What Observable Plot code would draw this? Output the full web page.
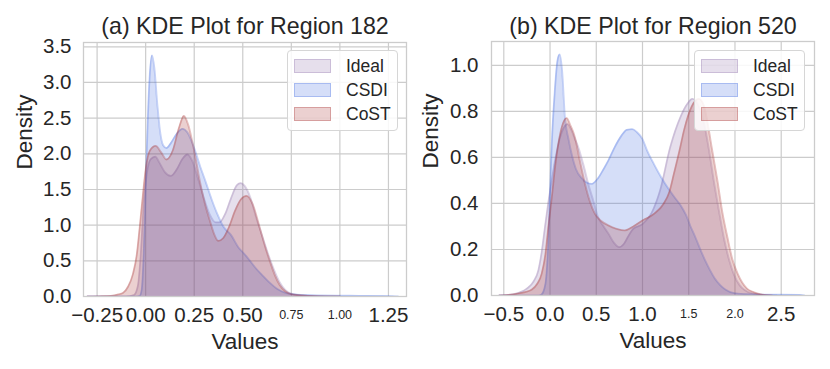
<!DOCTYPE html>
<html><head><meta charset="utf-8">
<script src="https://cdn.jsdelivr.net/npm/d3@7"></script>
<script src="https://cdn.jsdelivr.net/npm/@observablehq/plot@0.6"></script>
<style>
body{margin:0;background:#fff;font-family:"Liberation Sans",Arial,sans-serif;}
#wrap{display:flex;width:830px;height:369px;}
.panel{position:relative;width:415px;height:369px;}
.legend{position:absolute;top:50px;height:81px;background:rgba(255,255,255,0.85);border:1px solid #d6d6d6;border-radius:4px;box-sizing:border-box;}
.row{position:absolute;left:0;right:0;height:24px;}
.patch{position:absolute;left:6px;top:5px;width:37px;height:14px;box-sizing:border-box;}
.lab{position:absolute;top:2px;font-size:17.5px;color:#262626;line-height:20px;}
</style></head>
<body><div id="wrap"><div class="panel" id="p1"></div><div class="panel" id="p2"></div></div>
<script>
// ---------- data ----------
const seriesNames = ["Ideal", "CSDI", "CoST"];
const seriesColors = ["#8d6fa8", "#4169e1", "#a52a2a"];

// Region 182
const ideal182X = [-0.30,-0.10,-0.06,-0.04,-0.025,-0.01,0.005,0.025,0.05,0.07,0.10,0.13,0.16,0.19,0.215,0.24,0.27,0.30,0.33,0.36,0.38,0.41,0.44,0.47,0.49,0.51,0.54,0.57,0.60,0.63,0.66,0.69,0.72,0.75,0.80,0.90,1.0];
const ideal182Y = [0,0,0.02,0.15,0.6,1.3,1.7,1.92,1.96,1.88,1.74,1.69,1.78,1.93,1.99,1.9,1.65,1.38,1.15,1.04,1.04,1.16,1.38,1.56,1.59,1.55,1.38,1.1,0.85,0.6,0.38,0.2,0.09,0.04,0.015,0.003,0];
const csdi182X = [-0.30,-0.05,-0.03,-0.02,-0.01,0.0,0.01,0.02,0.033,0.045,0.06,0.075,0.09,0.107,0.13,0.16,0.19,0.215,0.25,0.28,0.31,0.34,0.37,0.40,0.44,0.48,0.50,0.52,0.56,0.60,0.64,0.68,0.72,0.78,0.9,1.0,1.1,1.2,1.27,1.3];
const csdi182Y = [0,0,0.01,0.1,0.6,1.5,2.4,3.05,3.38,3.2,2.7,2.3,2.12,2.08,2.15,2.28,2.35,2.3,2.08,1.83,1.6,1.36,1.15,0.98,0.86,0.68,0.62,0.56,0.42,0.3,0.19,0.1,0.05,0.025,0.015,0.012,0.01,0.008,0.005,0];
const cost182X = [-0.30,-0.24,-0.18,-0.14,-0.117,-0.09,-0.066,-0.045,-0.031,-0.015,0.0,0.021,0.052,0.08,0.107,0.14,0.17,0.197,0.22,0.25,0.279,0.31,0.331,0.355,0.374,0.40,0.43,0.46,0.49,0.52,0.55,0.588,0.615,0.64,0.665,0.69,0.72,0.76,0.85,0.93,1.0];
const cost182Y = [0,0.003,0.01,0.03,0.05,0.14,0.31,0.6,0.96,1.4,1.78,2.04,2.11,2.02,1.92,2.05,2.35,2.53,2.4,2.04,1.62,1.25,1.06,0.86,0.78,0.82,0.98,1.2,1.36,1.41,1.3,0.96,0.7,0.49,0.3,0.16,0.07,0.025,0.008,0.002,0];

// Region 520
const ideal520X = [-0.55,-0.45,-0.35,-0.25,-0.18,-0.126,-0.09,-0.054,-0.02,0.018,0.06,0.108,0.15,0.19,0.23,0.27,0.306,0.36,0.414,0.47,0.52,0.58,0.63,0.69,0.748,0.80,0.85,0.90,1.0,1.1,1.19,1.3,1.41,1.48,1.54,1.60,1.67,1.72,1.77,1.83,1.88,1.94,1.99,2.05,2.1,2.2,2.35,2.45];
const ideal520Y = [0,0.003,0.01,0.03,0.06,0.11,0.19,0.3,0.4,0.5,0.6,0.687,0.73,0.745,0.72,0.68,0.644,0.57,0.485,0.41,0.34,0.3,0.27,0.23,0.21,0.225,0.26,0.29,0.31,0.36,0.456,0.645,0.775,0.83,0.855,0.83,0.74,0.63,0.5,0.36,0.25,0.15,0.09,0.045,0.025,0.008,0.002,0];
const csdi520X = [-0.55,-0.12,-0.09,-0.05,-0.018,0.0,0.02,0.05,0.08,0.104,0.13,0.162,0.2,0.234,0.28,0.342,0.40,0.45,0.52,0.58,0.63,0.7,0.773,0.83,0.889,0.94,1.0,1.05,1.125,1.2,1.27,1.34,1.415,1.47,1.52,1.575,1.63,1.68,1.73,1.78,1.84,1.9,1.99,2.1,2.3,2.5,2.7,2.75];
const csdi520Y = [0,0,0.005,0.05,0.24,0.45,0.67,0.88,1.02,1.048,0.98,0.77,0.68,0.615,0.55,0.51,0.49,0.485,0.51,0.55,0.586,0.645,0.695,0.72,0.723,0.71,0.68,0.63,0.57,0.515,0.47,0.43,0.39,0.35,0.3,0.25,0.196,0.15,0.11,0.075,0.045,0.025,0.01,0.006,0.004,0.004,0.003,0];
const cost520X = [-0.55,-0.47,-0.35,-0.27,-0.2,-0.14,-0.09,-0.05,-0.018,0.02,0.054,0.09,0.126,0.18,0.22,0.27,0.32,0.378,0.43,0.486,0.55,0.63,0.72,0.81,0.9,1.0,1.125,1.23,1.29,1.34,1.40,1.45,1.53,1.61,1.66,1.70,1.75,1.81,1.86,1.92,1.97,2.03,2.08,2.13,2.2,2.28,2.4];
const cost520Y = [0,0.002,0.008,0.015,0.025,0.05,0.095,0.18,0.3,0.43,0.557,0.66,0.73,0.771,0.74,0.687,0.59,0.485,0.41,0.355,0.325,0.305,0.29,0.283,0.3,0.326,0.355,0.4,0.45,0.53,0.63,0.72,0.82,0.855,0.83,0.76,0.64,0.5,0.37,0.25,0.16,0.094,0.055,0.03,0.015,0.005,0];

// ticks
const x182Big = [-0.25, 0, 0.25, 0.5, 1.25];
const x182Small = [0.75, 1.0];
const y182Ticks = [0, 0.5, 1.0, 1.5, 2.0, 2.5, 3.0, 3.5];
const x520Big = [-0.5, 0, 0.5, 1.0, 2.5];
const x520Small = [1.5, 2.0];
const y520Ticks = [0, 0.2, 0.4, 0.6, 0.8, 1.0];

const titles = ["(a) KDE Plot for Region 182", "(b) KDE Plot for Region 520"];
const xLabel = "Values";
const yLabel = "Density";

// ---------- drawing ----------
const ink = "#262626";
const grid = "#cccccc";

function toRows(xs, ys) { return xs.map((v, i) => ({v, d: ys[i]})); }

function panel(cfg) {
  const fx = d3.format(cfg.xfmt), fy = d3.format(".1f");
  const marks = [
    Plot.gridX(cfg.bigX.concat(cfg.smallX), {stroke: grid, strokeOpacity: 1, strokeWidth: 1.2}),
    Plot.gridY(cfg.yTicks, {stroke: grid, strokeOpacity: 1, strokeWidth: 1.2}),
  ];
  cfg.series.forEach((s, i) => {
    const rows = toRows(s[0], s[1]);
    marks.push(Plot.areaY(rows, {x: "v", y: "d", fill: seriesColors[i], fillOpacity: 0.22, curve: "monotone-x", clip: true}));
    marks.push(Plot.lineY(rows, {x: "v", y: "d", stroke: seriesColors[i], strokeOpacity: 0.3, strokeWidth: 1.8, curve: "monotone-x", clip: true}));
  });
  marks.push(
    Plot.frame({stroke: grid, strokeWidth: 1.3}),
    Plot.text(cfg.bigX, {x: d => d, text: d => fx(d), frameAnchor: "bottom", lineAnchor: "top", dy: 11, fontSize: 20.5, fill: ink}),
    Plot.text(cfg.smallX, {x: d => d, text: d => fx(d), frameAnchor: "bottom", lineAnchor: "top", dy: 14, fontSize: 12.5, fill: ink}),
    Plot.text(cfg.yTicks, {y: d => d, text: d => fy(d), frameAnchor: "left", textAnchor: "end", dx: -cfg.ypad, fontSize: 20.5, fill: ink}),
    Plot.text([cfg.title], {text: d => d, frameAnchor: "top", lineAnchor: "top", dy: cfg.titleDy, fontSize: 23.2, fill: ink}),
    Plot.text([xLabel], {text: d => d, frameAnchor: "bottom", lineAnchor: "top", dy: 37, fontSize: 22.5, fill: ink}),
    Plot.text([yLabel], {text: d => d, frameAnchor: "left", lineAnchor: "top", rotate: -90, dx: cfg.yLabDx, fontSize: 22.5, fill: ink})
  );
  return Plot.plot({
    width: 415, height: 369,
    marginLeft: cfg.ml, marginRight: cfg.mr, marginTop: cfg.mt, marginBottom: cfg.mb,
    x: {domain: cfg.xDomain, label: null, axis: null},
    y: {domain: cfg.yDomain, label: null, axis: null},
    style: {fontFamily: "Liberation Sans, Arial, sans-serif", color: ink, background: "white", overflow: "visible"},
    marks
  });
}

function legend(el, left, labLeft) {
  const lg = document.createElement("div");
  lg.className = "legend";
  lg.style.left = left + "px";
  lg.style.width = "111px";
  seriesNames.forEach((n, i) => {
    const c = d3.color(seriesColors[i]);
    const row = document.createElement("div");
    row.className = "row";
    row.style.top = (3 + i * 24) + "px";
    const p = document.createElement("div");
    p.className = "patch";
    p.style.background = `rgba(${c.r},${c.g},${c.b},0.22)`;
    p.style.border = `1.5px solid rgba(${c.r},${c.g},${c.b},0.3)`;
    const t = document.createElement("span");
    t.className = "lab";
    t.style.left = labLeft + "px";
    t.textContent = n;
    row.appendChild(p); row.appendChild(t);
    lg.appendChild(row);
  });
  el.appendChild(lg);
}

const p1 = document.getElementById("p1");
p1.appendChild(panel({
  title: titles[0], titleDy: -25,
  ml: 83, mr: 9, mt: 42, mb: 73, ypad: 12, yLabDx: -67,
  xDomain: [-0.32, 1.343], yDomain: [0, 3.56], xfmt: ".2f",
  bigX: x182Big, smallX: x182Small, yTicks: y182Ticks,
  series: [[ideal182X, ideal182Y], [csdi182X, csdi182Y], [cost182X, cost182Y]]
}));
legend(p1, 287, 58);

const p2 = document.getElementById("p2");
p2.appendChild(panel({
  title: titles[1], titleDy: -24,
  ml: 76, mr: 16, mt: 41, mb: 74, ypad: 13, yLabDx: -69,
  xDomain: [-0.633, 2.86], yDomain: [0, 1.104], xfmt: ".1f",
  bigX: x520Big, smallX: x520Small, yTicks: y520Ticks,
  series: [[ideal520X, ideal520Y], [csdi520X, csdi520Y], [cost520X, cost520Y]]
}));
legend(p2, 279, 58);
</script></body></html>
